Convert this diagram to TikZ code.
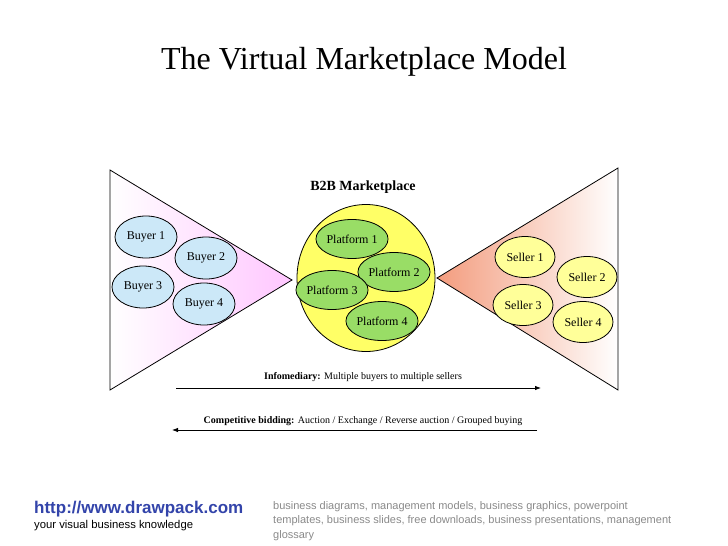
\documentclass[tikz,border=0pt]{standalone}
\usepackage{fontspec}
\setmainfont{Liberation Serif}
\newfontfamily\footfont{Liberation Sans}
\usetikzlibrary{
  positioning,
  arrows.meta,
  shapes.geometric
}
\definecolor{buyer}{HTML}{CCE8F8}
\definecolor{buyerpink}{HTML}{FFC6FF}
\definecolor{platform}{HTML}{99DD66}
\definecolor{market}{HTML}{FFFF66}
\definecolor{seller}{HTML}{FFFF99}
\definecolor{salmon}{HTML}{F39C7E}
\definecolor{linkblue}{HTML}{3344AA}
\definecolor{chill}{HTML}{8A8A8A}

\begin{document}
\begin{tikzpicture}[
  x=1pt, y=-1pt,
  oval/.style={draw, ellipse, line width=0.8pt, inner sep=0pt, align=center,
               font=\fontsize{12}{14}\selectfont},
  bnode/.style={oval, fill=buyer, minimum width=62pt, minimum height=42pt},
  pnode/.style={oval, fill=platform, minimum width=63pt, minimum height=39pt},
  snode/.style={oval, fill=seller, minimum width=60pt, minimum height=41pt},
  lbl/.style={font=\fontsize{10}{12}\selectfont, inner sep=1pt},
  arr/.style={-{Latex[length=6pt, width=4.5pt]}, line width=0.8pt},
]
  \useasboundingbox[fill=white] (0,0) rectangle (728,546);

  % Title
  \node[font=\fontsize{32}{36}\selectfont] (title) at (364,62) {The Virtual Marketplace Model};

  % Buyer side (LEFT)
  \shade[left color=white, right color=buyerpink] (110,170) -- (292,280) -- (110,390) -- cycle;
  \draw[line width=0.8pt] (110,170) -- (292,280) -- (110,390) -- cycle;
  \node[bnode] (b1) at (146,237) {Buyer 1};
  \node[bnode] (b2) at (206,258) {Buyer 2};
  \node[bnode] (b3) at (143,287) {Buyer 3};
  \node[bnode] (b4) at (204,304) {Buyer 4};

  % Seller side (RIGHT)
  \shade[left color=salmon, right color=white] (437,278) -- (618,168) -- (618,390) -- cycle;
  \draw[line width=0.8pt] (437,278) -- (618,168) -- (618,390) -- cycle;
  \node[snode] (s1) at (525,257) {Seller 1};
  \node[snode] (s2) at (587,277) {Seller 2};
  \node[snode] (s3) at (523,305) {Seller 3};
  \node[snode] (s4) at (583,322) {Seller 4};

  % Marketplace (CENTRE)
  \node[font=\fontsize{14}{16}\selectfont\bfseries] (b2b) at (363,187) {B2B Marketplace};
  \node[draw, ellipse, fill=market, line width=0.8pt, minimum width=138pt,
        minimum height=147pt] (market) at (366,278) {};
  \node[pnode] (p1) at (352,239) {Platform 1};
  \node[pnode] (p2) at (394,272) {Platform 2};
  \node[pnode] (p3) at (332,290) {Platform 3};
  \node[pnode] (p4) at (382,321) {Platform 4};

  % Flows
  \coordinate (info-start) at (176,388);
  \coordinate (info-end) at (541,388);
  \draw[arr] (info-start) -- (info-end);
  \node[lbl] (info) at (363,377) {\textbf{Infomediary:} Multiple buyers to multiple sellers};

  \coordinate (bid-start) at (537,430);
  \coordinate (bid-end) at (172,430);
  \draw[arr] (bid-start) -- (bid-end);
  \node[lbl] (bid) at (363,421) {\textbf{Competitive bidding:} Auction / Exchange / Reverse auction / Grouped buying};

  % Footer
  \node[anchor=west, inner sep=0pt, font=\footfont\fontsize{17}{19}\selectfont\bfseries, linkblue]
    (url) at (34,509) {http://www.drawpack.com};
  \node[anchor=west, inner sep=0pt, font=\footfont\fontsize{11.3}{13}\selectfont]
    (slogan) at (34,526) {your visual business knowledge};
  \node[anchor=north west, inner sep=0pt, align=left, chill,
        font=\footfont\fontsize{11}{14.8}\selectfont] (tags) at (273,501)
    {business diagrams, management models, business graphics, powerpoint\\
     templates, business slides, free downloads, business presentations, management\\
     glossary};
\end{tikzpicture}
\end{document}
